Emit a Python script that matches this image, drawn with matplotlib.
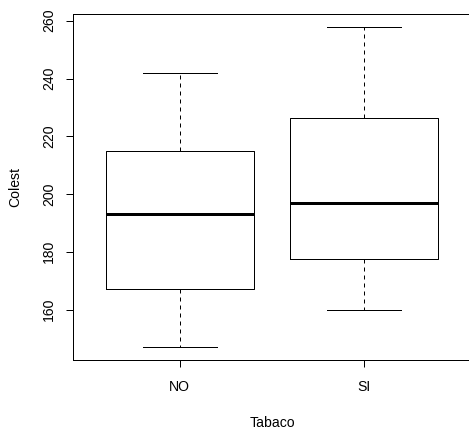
import matplotlib
matplotlib.use("Agg")
import matplotlib.pyplot as plt

categories = ["NO", "SI"]
whisker_low = [147, 160]
q1 = [167, 177.4]
medians = [193, 197]
q3 = [215, 226.5]
whisker_high = [242, 258]
yticks = [160, 180, 200, 220, 240, 260]

plt.rcParams['font.family'] = ['Liberation Sans', 'DejaVu Sans']
fig = plt.figure(figsize=(469/72, 432/72), dpi=72)
W, H = 469, 432
left, right, top, bottom = 73, 471, 13.7, 360
ax = fig.add_axes([left/W, (H-bottom)/H, (right-left)/W, (bottom-top)/H])

stats = []
for i, c in enumerate(categories):
    stats.append(dict(label=c, whislo=whisker_low[i], q1=q1[i], med=medians[i],
                      q3=q3[i], whishi=whisker_high[i], fliers=[]))
positions = list(range(1, len(categories)+1))
ax.bxp(stats, positions=positions, widths=0.8, showfliers=False,
       boxprops=dict(color='black', linewidth=1),
       whiskerprops=dict(color='black', linewidth=1, linestyle=(0, (4, 4))),
       capprops=dict(color='black', linewidth=1),
       medianprops=dict(color='black', linewidth=3, solid_capstyle='butt'),
       capwidths=0.4)

fs = 14
ax.set_xlim(0.42, 2.58)
ax.set_ylim(142.56, 262.44)
ax.set_xticks(positions)
ax.set_xticklabels(categories, fontsize=fs)
ax.set_yticks(yticks)
ax.set_yticklabels([str(t) for t in yticks], fontsize=fs, rotation=90, va='center')
ax.tick_params(axis='both', direction='out', length=7.2, width=1, color='black')
ax.tick_params(axis='x', pad=13)
ax.tick_params(axis='y', pad=10)
for s in ax.spines.values():
    s.set_linewidth(1)
    s.set_color('black')

ax.set_xlabel("Tabaco", fontsize=fs)
ax.set_ylabel("Colest", fontsize=fs)
ax.xaxis.set_label_coords(0.5, (bottom-422.7)/(bottom-top))
ax.xaxis.label.set_va('center')
ax.yaxis.set_label_coords((15-left)/(right-left), 0.5)
ax.yaxis.label.set_va('center')

fig.savefig("out.png", dpi=72)
